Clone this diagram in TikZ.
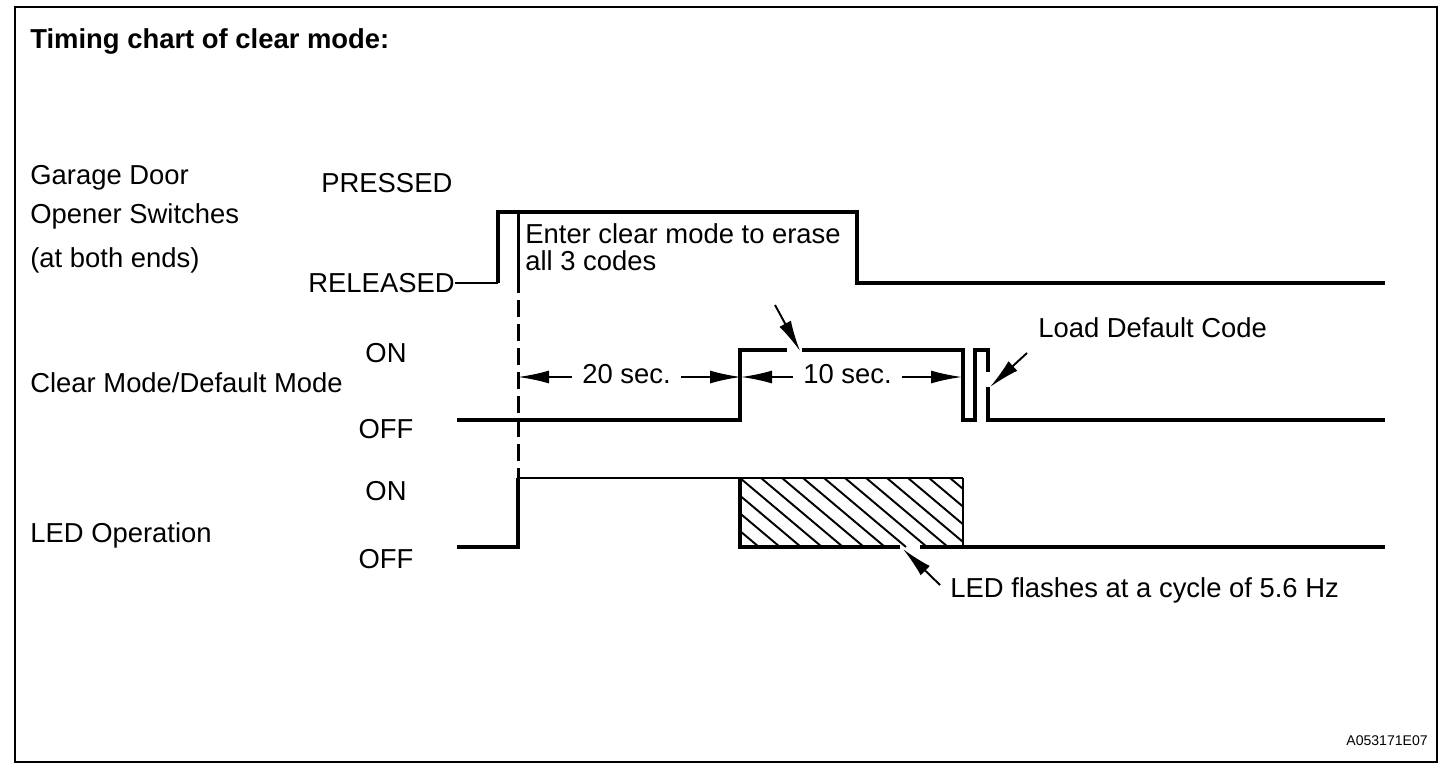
\documentclass[tikz,border=0pt]{standalone}
\usepackage{fontspec}
\setmainfont{Liberation Sans}
\usetikzlibrary{arrows.meta,calc}
\begin{document}
\begin{tikzpicture}[x=0.02cm,y=-0.02cm]
\tikzset{sig/.style={line width=2.2pt},
  thinsig/.style={line width=1.2pt},
  lbl/.style={inner sep=0pt, font=\fontsize{15.6}{18}\selectfont},
  ptr/.style={line width=1.1pt, -{Latex[length=0.62cm,width=0.26cm]}},
  dimtxt/.style={lbl, inner xsep=0.2cm}}
\useasboundingbox (0,0) rectangle (1456,774);
\draw[line width=1.6pt] (15,7) rectangle (1437,762);
% labels
\node[lbl, anchor=base west, font=\fontsize{15.6}{18}\selectfont\bfseries] (title) at (30,48) {Timing chart of clear mode:};
\node[lbl, anchor=base west] (gdoor1) at (30,184) {Garage Door};
\node[lbl, anchor=base west] (gdoor2) at (30,223) {Opener Switches};
\node[lbl, anchor=base west] (gdoor3) at (30,267) {(at both ends)};
\node[lbl, anchor=base west] (pressed) at (321,192) {PRESSED};
\node[lbl, anchor=base east] (released) at (455,292) {RELEASED};
\node[lbl, anchor=base west] (clrmode) at (30,392) {Clear Mode/Default Mode};
\node[lbl, anchor=base] (clron) at (386,362) {ON};
\node[lbl, anchor=base] (clroff) at (386,438) {OFF};
\node[lbl, anchor=base west] (ledop) at (30,542) {LED Operation};
\node[lbl, anchor=base] (ledon) at (386,500) {ON};
\node[lbl, anchor=base] (ledoff) at (386,568) {OFF};
\node[lbl, anchor=base west] (enter1) at (525,243) {Enter clear mode to erase};
\node[lbl, anchor=base west] (enter2) at (525,270) {all 3 codes};
\node[lbl, anchor=base west] (loadcode) at (1038,337) {Load Default Code};
\node[lbl, anchor=base west] (ledflash) at (950,597) {LED flashes at a cycle of 5.6 Hz};
\node[inner sep=0pt, anchor=base east, font=\fontsize{8}{9}\selectfont] (figno) at (1428,745) {A053171E07};
% garage door switches
\draw[thinsig] (released.east |- 0,283) -- (498,283);
\draw[sig] (498,283) -- (498,212) -- (857,212) -- (857,283) -- (1385,283);
% clear mode / default mode
\draw[sig] (457,420) -- (740,420) -- (740,350) -- (787,350);
\draw[sig] (802,350) -- (963,350) -- (963,420) -- (975,420) -- (975,350) -- (988,350) -- (988,372);
\draw[sig] (988,387) -- (988,420) -- (1385,420);
% LED operation
\draw[sig] (457,547) -- (518,547) -- (518,478);
\draw[thinsig] (518,478) -- (963,478);
\begin{scope}
\clip (740,478) rectangle (963,547);
\foreach \k in {-4,...,11}
  \draw[line width=1.1pt] (740+\k*21,478) -- ++(82,69);
\end{scope}
\draw[sig] (740,478) -- (740,547) -- (900,547);
\draw[sig] (920,547) -- (1385,547);
\draw[thinsig] (963,478) -- (963,547);
% start marker
\draw[line width=1.7pt] (518,212) -- (518,293);
\draw[line width=1.7pt, dash pattern=on 0.34cm off 0.14cm] (518,300) -- (518,478);
% time spans
\coordinate (d0) at (518,377);
\coordinate (d1) at (741,377);
\coordinate (d2) at (962,377);
\node[dimtxt] (t20) at ($(d0)!0.5!(d1)+(-3,-3)$) {20 sec.};
\node[dimtxt] (t10) at ($(d1)!0.5!(d2)+(-4,-3)$) {10 sec.};
\draw[ptr] (t20.west |- d0) -- (d0);
\draw[ptr] (t20.east |- d0) -- (d1);
\draw[ptr] (t10.west |- d0) -- (d1);
\draw[ptr] (t10.east |- d0) -- (d2);
% pointers
\coordinate (p10a) at (775,305);
\coordinate (p10b) at (800,351);
\coordinate (pLda) at (1027,353);
\coordinate (pLdb) at (990,387);
\coordinate (pLea) at (940,585);
\coordinate (pLeb) at (903,549);
\draw[ptr] (p10a) -- (p10b);
\draw[ptr] (pLda) -- (pLdb);
\draw[ptr] (pLea) -- (pLeb);
\end{tikzpicture}
\end{document}
